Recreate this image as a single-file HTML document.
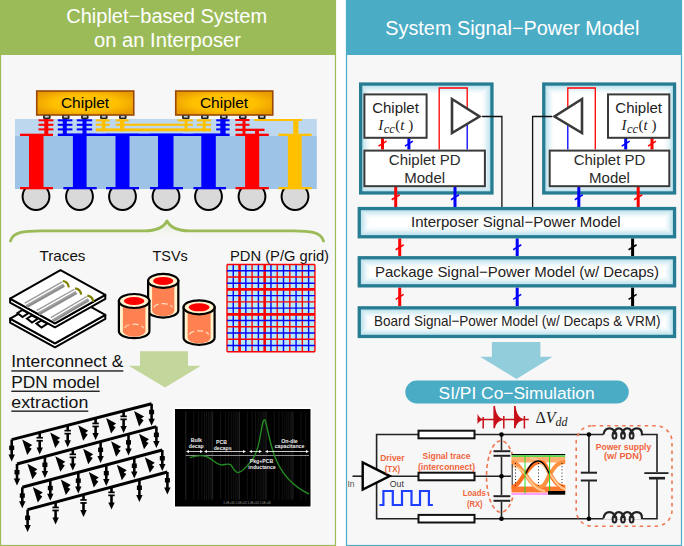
<!DOCTYPE html>
<html><head><meta charset="utf-8"><style>
html,body{margin:0;padding:0;background:#fff;}
svg{display:block;}
</style></head><body>
<svg width="684" height="546" viewBox="0 0 684 546">
<rect x="0" y="0" width="684" height="546" fill="#ffffff"/>
<rect x="0.5" y="0.5" width="335" height="545" fill="#F7F7F7" stroke="#9BBB59" stroke-width="1.2"/>
<rect x="0" y="0" width="336" height="55" fill="#9BBB59"/>
<rect x="346.5" y="0.5" width="335" height="545" fill="#F7F7F7" stroke="#4BACC6" stroke-width="1.2"/>
<rect x="346" y="0" width="336" height="55" fill="#4BACC6"/>
<text x="166.7" y="23" font-family='"Liberation Sans", sans-serif' font-size="20" fill="#fff" text-anchor="middle" font-weight="normal" font-style="normal" textLength="201" lengthAdjust="spacingAndGlyphs" >Chiplet−based System</text>
<text x="167.5" y="46.5" font-family='"Liberation Sans", sans-serif' font-size="20" fill="#fff" text-anchor="middle" font-weight="normal" font-style="normal" textLength="147" lengthAdjust="spacingAndGlyphs" >on an Interposer</text>
<text x="385.3" y="35" font-family='"Liberation Sans", sans-serif' font-size="20" fill="#fff" text-anchor="start" font-weight="normal" font-style="normal" textLength="254" lengthAdjust="spacingAndGlyphs" >System Signal−Power Model</text>
<circle cx="36" cy="196.6" r="13.4" fill="#D9D9D9" stroke="#000" stroke-width="2"/>
<circle cx="79.5" cy="196.6" r="13.4" fill="#D9D9D9" stroke="#000" stroke-width="2"/>
<circle cx="122.5" cy="196.6" r="13.4" fill="#D9D9D9" stroke="#000" stroke-width="2"/>
<circle cx="166" cy="196.6" r="13.4" fill="#D9D9D9" stroke="#000" stroke-width="2"/>
<circle cx="208.5" cy="196.6" r="13.4" fill="#D9D9D9" stroke="#000" stroke-width="2"/>
<circle cx="252" cy="196.6" r="13.4" fill="#D9D9D9" stroke="#000" stroke-width="2"/>
<circle cx="295" cy="196.6" r="13.4" fill="#D9D9D9" stroke="#000" stroke-width="2"/>
<rect x="15" y="119" width="301.8" height="17" fill="#BDD7EE"/>
<rect x="15" y="136" width="301.8" height="53" fill="#9DC3E6"/>
<defs><radialGradient id="chg" cx="50%" cy="50%" r="60%"><stop offset="0.55" stop-color="#FFC000"/><stop offset="1" stop-color="#E89A00"/></radialGradient><linearGradient id="glow" x1="0" y1="0" x2="0" y2="1"><stop offset="0" stop-color="#fff"/><stop offset="1" stop-color="#fff"/></linearGradient></defs>
<rect x="36.75" y="91" width="97" height="24" fill="url(#chg)" stroke="#984807" stroke-width="1.6"/>
<text x="85" y="107.5" font-family='"Liberation Sans", sans-serif' font-size="15.5" fill="#000" text-anchor="middle" font-weight="normal" font-style="normal" >Chiplet</text>
<rect x="43.0" y="115.3" width="7.6" height="3.6" rx="1.2" fill="#222"/>
<rect x="44.8" y="115.8" width="4" height="1.8" fill="#C8C8C8"/>
<rect x="62.0" y="115.3" width="7.6" height="3.6" rx="1.2" fill="#222"/>
<rect x="63.8" y="115.8" width="4" height="1.8" fill="#C8C8C8"/>
<rect x="81.0" y="115.3" width="7.6" height="3.6" rx="1.2" fill="#222"/>
<rect x="82.8" y="115.8" width="4" height="1.8" fill="#C8C8C8"/>
<rect x="100.0" y="115.3" width="7.6" height="3.6" rx="1.2" fill="#222"/>
<rect x="101.8" y="115.8" width="4" height="1.8" fill="#C8C8C8"/>
<rect x="119.0" y="115.3" width="7.6" height="3.6" rx="1.2" fill="#222"/>
<rect x="120.8" y="115.8" width="4" height="1.8" fill="#C8C8C8"/>
<rect x="175.75" y="91" width="97" height="24" fill="url(#chg)" stroke="#984807" stroke-width="1.6"/>
<text x="224" y="107.5" font-family='"Liberation Sans", sans-serif' font-size="15.5" fill="#000" text-anchor="middle" font-weight="normal" font-style="normal" >Chiplet</text>
<rect x="182.0" y="115.3" width="7.6" height="3.6" rx="1.2" fill="#222"/>
<rect x="183.8" y="115.8" width="4" height="1.8" fill="#C8C8C8"/>
<rect x="201.0" y="115.3" width="7.6" height="3.6" rx="1.2" fill="#222"/>
<rect x="202.8" y="115.8" width="4" height="1.8" fill="#C8C8C8"/>
<rect x="220.0" y="115.3" width="7.6" height="3.6" rx="1.2" fill="#222"/>
<rect x="221.8" y="115.8" width="4" height="1.8" fill="#C8C8C8"/>
<rect x="239.0" y="115.3" width="7.6" height="3.6" rx="1.2" fill="#222"/>
<rect x="240.8" y="115.8" width="4" height="1.8" fill="#C8C8C8"/>
<rect x="258.0" y="115.3" width="7.6" height="3.6" rx="1.2" fill="#222"/>
<rect x="259.8" y="115.8" width="4" height="1.8" fill="#C8C8C8"/>
<rect x="29" y="136" width="14.50" height="52.00" fill="#FF0000"/>
<rect x="20" y="133.7" width="33.00" height="2.30" fill="#FF0000"/>
<rect x="20" y="187" width="33.00" height="2.30" fill="#FF0000"/>
<rect x="72.9" y="136" width="13.70" height="52.00" fill="#0000FF"/>
<rect x="63.4" y="133.7" width="33.30" height="2.30" fill="#0000FF"/>
<rect x="63.4" y="187" width="33.30" height="2.30" fill="#0000FF"/>
<rect x="115.5" y="136" width="14.00" height="52.00" fill="#0000FF"/>
<rect x="106" y="133.7" width="33.00" height="2.30" fill="#0000FF"/>
<rect x="106" y="187" width="33.00" height="2.30" fill="#0000FF"/>
<rect x="158" y="136" width="15.50" height="52.00" fill="#0000FF"/>
<rect x="150" y="133.7" width="33.00" height="2.30" fill="#0000FF"/>
<rect x="150" y="187" width="33.00" height="2.30" fill="#0000FF"/>
<rect x="201.3" y="136" width="14.50" height="52.00" fill="#0000FF"/>
<rect x="193.4" y="133.7" width="32.60" height="2.30" fill="#0000FF"/>
<rect x="193.4" y="187" width="32.60" height="2.30" fill="#0000FF"/>
<rect x="245.1" y="136" width="14.10" height="52.00" fill="#FF0000"/>
<rect x="235.5" y="133.7" width="33.30" height="2.30" fill="#FF0000"/>
<rect x="235.5" y="187" width="33.30" height="2.30" fill="#FF0000"/>
<rect x="287.9" y="136" width="13.80" height="52.00" fill="#FFC000"/>
<rect x="278.4" y="133.7" width="33.20" height="2.30" fill="#FFC000"/>
<rect x="278.4" y="187" width="33.20" height="2.30" fill="#FFC000"/>
<rect x="44.3" y="119" width="4.00" height="17.00" fill="#FF0000"/>
<rect x="38.5" y="119.3" width="14.90" height="2.00" fill="#FF0000"/>
<rect x="38.5" y="123.8" width="14.90" height="2.00" fill="#FF0000"/>
<rect x="38.5" y="128.4" width="14.90" height="2.00" fill="#FF0000"/>
<rect x="62.8" y="119" width="4.00" height="17.00" fill="#0000FF"/>
<rect x="57.8" y="119.3" width="14.60" height="2.00" fill="#0000FF"/>
<rect x="57.8" y="123.8" width="14.60" height="2.00" fill="#0000FF"/>
<rect x="57.8" y="128.4" width="14.60" height="2.00" fill="#0000FF"/>
<rect x="82.5" y="119" width="4.00" height="17.00" fill="#0000FF"/>
<rect x="76.8" y="119.3" width="15.30" height="2.00" fill="#0000FF"/>
<rect x="76.8" y="123.8" width="15.30" height="2.00" fill="#0000FF"/>
<rect x="76.8" y="128.4" width="15.30" height="2.00" fill="#0000FF"/>
<rect x="220.3" y="119" width="5.30" height="17.00" fill="#0000FF"/>
<rect x="216.2" y="119.3" width="13.40" height="2.00" fill="#0000FF"/>
<rect x="216.2" y="123.8" width="13.40" height="2.00" fill="#0000FF"/>
<rect x="216.2" y="128.4" width="13.40" height="2.00" fill="#0000FF"/>
<rect x="242.5" y="119" width="3.00" height="17.00" fill="#FF0000"/>
<rect x="235.3" y="119" width="14.20" height="2.00" fill="#FF0000"/>
<rect x="235.3" y="123.8" width="14.20" height="2.00" fill="#FF0000"/>
<rect x="235.3" y="128.7" width="29.20" height="2.30" fill="#FF0000"/>
<rect x="255" y="131" width="4.00" height="5.00" fill="#FF0000"/>
<rect x="57.8" y="133.6" width="171.80" height="2.40" fill="#0000FF"/>
<rect x="95.8" y="119.3" width="13.90" height="2.10" fill="#FFC000"/>
<rect x="101.7" y="119.3" width="3.70" height="12.00" fill="#FFC000"/>
<rect x="115.6" y="119.3" width="13.10" height="2.10" fill="#FFC000"/>
<rect x="120" y="119.3" width="4.40" height="12.00" fill="#FFC000"/>
<rect x="177.6" y="119.3" width="15.20" height="2.10" fill="#FFC000"/>
<rect x="184.6" y="119.3" width="2.90" height="12.00" fill="#FFC000"/>
<rect x="196.9" y="119.3" width="14.10" height="2.10" fill="#FFC000"/>
<rect x="202.7" y="119.3" width="3.00" height="12.00" fill="#FFC000"/>
<rect x="95.8" y="123.7" width="13.90" height="2.10" fill="#FFC000"/>
<rect x="115.6" y="123.7" width="77.20" height="2.10" fill="#FFC000"/>
<rect x="95.8" y="128.4" width="115.20" height="2.90" fill="#FFC000"/>
<rect x="196.9" y="123.7" width="14.10" height="2.10" fill="#FFC000"/>
<rect x="254.3" y="119" width="47.80" height="2.00" fill="#FFC000"/>
<rect x="293.2" y="121" width="5.20" height="13.00" fill="#FFC000"/>
<defs><linearGradient id="brg" x1="0" y1="0" x2="0" y2="1"><stop offset="0" stop-color="#E4ECD3"/><stop offset="1" stop-color="#F7F7F7" stop-opacity="0"/></linearGradient></defs>
<path d="M12,241 C15,233 25,231 42,231 L144,231 C158,231 164,227 167,221 C170,227 176,231 190,231 L293,231 C310,231 319,233 322,241 Z" fill="url(#brg)"/>
<path d="M10.5,241 C13,232.5 23,230.8 41,230.8 L144,230.8 C158,230.8 164,227 167,221 C170,227 176,230.8 190,230.8 L293,230.8 C311,230.8 321,232.5 323.5,241" fill="none" stroke="#9BBB59" stroke-width="2.8" stroke-linejoin="round" stroke-linecap="round"/>
<text x="62.5" y="260.5" font-family='"Liberation Sans", sans-serif' font-size="15" fill="#111" text-anchor="middle" font-weight="normal" font-style="normal" textLength="46" lengthAdjust="spacingAndGlyphs" >Traces</text>
<text x="170.1" y="261" font-family='"Liberation Sans", sans-serif' font-size="15" fill="#111" text-anchor="middle" font-weight="normal" font-style="normal" textLength="35.4" lengthAdjust="spacingAndGlyphs" >TSVs</text>
<text x="279.5" y="261" font-family='"Liberation Sans", sans-serif' font-size="15" fill="#111" text-anchor="middle" font-weight="normal" font-style="normal" textLength="99" lengthAdjust="spacingAndGlyphs" >PDN (P/G grid)</text>
<path d="M10.1,318.6 L55,343.3 L105.3,314.9 L105.3,318.9 L55,347.3 L10.1,322.6 Z" fill="#fff" stroke="#000" stroke-width="2" stroke-linejoin="round"/>
<path d="M60.5,290.2 L105.3,314.9 L55,343.3 L10.1,318.6 Z" fill="#fff" stroke="#000" stroke-width="2" stroke-linejoin="round"/>
<path d="M17.5,313 L22.5,310 L28.5,313 L22.5,317 Z" fill="#fff" stroke="#000" stroke-width="2"/>
<path d="M27,318.5 L32,315.5 L38,318.5 L32,322.5 Z" fill="#fff" stroke="#000" stroke-width="2"/>
<path d="M36.5,323.5 L41.5,320.5 L47.5,323.5 L41.5,327.5 Z" fill="#fff" stroke="#000" stroke-width="2"/>
<path d="M10.1,298.6 L55,323.3 L105.3,294.9 L105.3,298.9 L55,327.3 L10.1,302.6 Z" fill="#fff" stroke="#000" stroke-width="2" stroke-linejoin="round"/>
<path d="M60.5,270.2 L105.3,294.9 L55,323.3 L10.1,298.6 Z" fill="#fff" stroke="#000" stroke-width="2" stroke-linejoin="round"/>
<line x1="62.2" y1="281.9" x2="24.7" y2="303.1" stroke="#9A9A9A" stroke-width="1.3"/>
<line x1="64.1" y1="285.2" x2="26.6" y2="306.4" stroke="#8E8E8E" stroke-width="3.4"/>
<line x1="63.7" y1="284.5" x2="26.2" y2="305.7" stroke="#B0B0B0" stroke-width="0.8"/>
<path d="M62.8,281.0 Q68.3,281.8 68.8,287.3" fill="none" stroke="#808000" stroke-width="2.2"/>
<line x1="74.5" y1="289.3" x2="36.9" y2="310.4" stroke="#9A9A9A" stroke-width="1.3"/>
<line x1="76.4" y1="292.6" x2="38.8" y2="313.7" stroke="#8E8E8E" stroke-width="3.4"/>
<line x1="76.0" y1="291.9" x2="38.4" y2="313.0" stroke="#B0B0B0" stroke-width="0.8"/>
<path d="M75.1,288.4 Q80.6,289.2 81.1,294.7" fill="none" stroke="#808000" stroke-width="2.2"/>
<line x1="86.7" y1="296.5" x2="50.9" y2="317.6" stroke="#9A9A9A" stroke-width="1.3"/>
<line x1="88.6" y1="299.8" x2="52.8" y2="320.9" stroke="#8E8E8E" stroke-width="3.4"/>
<line x1="88.2" y1="299.1" x2="52.4" y2="320.2" stroke="#B0B0B0" stroke-width="0.8"/>
<path d="M87.3,295.6 Q92.8,296.4 93.3,301.9" fill="none" stroke="#808000" stroke-width="2.2"/>
<path d="M148.09999999999997,280.9 L148.09999999999997,310.6 A15.100000000000009,7 0 0 0 178.3,310.6 L178.3,280.9 Z" fill="#FFF2CC" stroke="#000" stroke-width="2.2"/>
<path d="M152.09999999999997,283.9 L152.09999999999997,310.6 A11.100000000000009,5.5 0 0 0 174.3,310.6 L174.3,283.9 Z" fill="#FF8050"/>
<ellipse cx="163.2" cy="280.9" rx="15.100000000000009" ry="7" fill="#FFF2CC" stroke="#000" stroke-width="2.2"/>
<ellipse cx="163.2" cy="280.9" rx="10.100000000000009" ry="4" fill="#FF0000"/>
<path d="M154.09999999999997,307.6 A9.100000000000009,4 0 0 1 172.3,307.6" fill="none" stroke="#FFE0C0" stroke-width="1.2" stroke-dasharray="6 3"/>
<path d="M118.9,301 L118.9,331.2 A15.25,7 0 0 0 149.4,331.2 L149.4,301 Z" fill="#FFF2CC" stroke="#000" stroke-width="2.2"/>
<path d="M122.9,304 L122.9,331.2 A11.25,5.5 0 0 0 145.4,331.2 L145.4,304 Z" fill="#FF8050"/>
<ellipse cx="134.15" cy="301" rx="15.25" ry="7" fill="#FFF2CC" stroke="#000" stroke-width="2.2"/>
<ellipse cx="134.15" cy="301" rx="10.25" ry="4" fill="#FF0000"/>
<path d="M124.9,328.2 A9.25,4 0 0 1 143.4,328.2" fill="none" stroke="#FFE0C0" stroke-width="1.2" stroke-dasharray="6 3"/>
<path d="M183.6,307.3 L183.6,337.8 A15.5,7 0 0 0 214.6,337.8 L214.6,307.3 Z" fill="#FFF2CC" stroke="#000" stroke-width="2.2"/>
<path d="M187.6,310.3 L187.6,337.8 A11.5,5.5 0 0 0 210.6,337.8 L210.6,310.3 Z" fill="#FF8050"/>
<ellipse cx="199.1" cy="307.3" rx="15.5" ry="7" fill="#FFF2CC" stroke="#000" stroke-width="2.2"/>
<ellipse cx="199.1" cy="307.3" rx="10.5" ry="4" fill="#FF0000"/>
<path d="M189.6,334.8 A9.5,4 0 0 1 208.6,334.8" fill="none" stroke="#FFE0C0" stroke-width="1.2" stroke-dasharray="6 3"/>
<rect x="227" y="264.5" width="87.89999999999998" height="87.19999999999999" fill="#B7EBF3"/>
<line x1="227.00" y1="264.5" x2="227.00" y2="351.7" stroke="#FF0000" stroke-width="1.4"/>
<line x1="233.28" y1="264.5" x2="233.28" y2="351.7" stroke="#0000FF" stroke-width="1.4"/>
<line x1="239.56" y1="264.5" x2="239.56" y2="351.7" stroke="#FF0000" stroke-width="2.6"/>
<line x1="245.84" y1="264.5" x2="245.84" y2="351.7" stroke="#0000FF" stroke-width="1.4"/>
<line x1="252.11" y1="264.5" x2="252.11" y2="351.7" stroke="#FF0000" stroke-width="1.4"/>
<line x1="258.39" y1="264.5" x2="258.39" y2="351.7" stroke="#0000FF" stroke-width="1.4"/>
<line x1="264.67" y1="264.5" x2="264.67" y2="351.7" stroke="#FF0000" stroke-width="2.6"/>
<line x1="270.95" y1="264.5" x2="270.95" y2="351.7" stroke="#0000FF" stroke-width="1.4"/>
<line x1="277.23" y1="264.5" x2="277.23" y2="351.7" stroke="#FF0000" stroke-width="1.4"/>
<line x1="283.51" y1="264.5" x2="283.51" y2="351.7" stroke="#0000FF" stroke-width="1.4"/>
<line x1="289.79" y1="264.5" x2="289.79" y2="351.7" stroke="#FF0000" stroke-width="1.4"/>
<line x1="296.06" y1="264.5" x2="296.06" y2="351.7" stroke="#0000FF" stroke-width="1.4"/>
<line x1="302.34" y1="264.5" x2="302.34" y2="351.7" stroke="#FF0000" stroke-width="1.4"/>
<line x1="308.62" y1="264.5" x2="308.62" y2="351.7" stroke="#0000FF" stroke-width="1.4"/>
<line x1="314.90" y1="264.5" x2="314.90" y2="351.7" stroke="#FF0000" stroke-width="1.4"/>
<line x1="227" y1="264.50" x2="314.9" y2="264.50" stroke="#FF0000" stroke-width="1.4"/>
<line x1="227" y1="270.73" x2="314.9" y2="270.73" stroke="#0000FF" stroke-width="1.4"/>
<line x1="227" y1="276.96" x2="314.9" y2="276.96" stroke="#FF0000" stroke-width="1.4"/>
<line x1="227" y1="283.19" x2="314.9" y2="283.19" stroke="#0000FF" stroke-width="1.4"/>
<line x1="227" y1="289.41" x2="314.9" y2="289.41" stroke="#FF0000" stroke-width="2.6"/>
<line x1="227" y1="295.64" x2="314.9" y2="295.64" stroke="#0000FF" stroke-width="1.4"/>
<line x1="227" y1="301.87" x2="314.9" y2="301.87" stroke="#FF0000" stroke-width="1.4"/>
<line x1="227" y1="308.10" x2="314.9" y2="308.10" stroke="#0000FF" stroke-width="1.4"/>
<line x1="227" y1="314.33" x2="314.9" y2="314.33" stroke="#FF0000" stroke-width="2.6"/>
<line x1="227" y1="320.56" x2="314.9" y2="320.56" stroke="#0000FF" stroke-width="1.4"/>
<line x1="227" y1="326.79" x2="314.9" y2="326.79" stroke="#FF0000" stroke-width="1.4"/>
<line x1="227" y1="333.01" x2="314.9" y2="333.01" stroke="#0000FF" stroke-width="1.4"/>
<line x1="227" y1="339.24" x2="314.9" y2="339.24" stroke="#FF0000" stroke-width="1.4"/>
<line x1="227" y1="345.47" x2="314.9" y2="345.47" stroke="#0000FF" stroke-width="1.4"/>
<line x1="227" y1="351.70" x2="314.9" y2="351.70" stroke="#FF0000" stroke-width="1.4"/>
<text x="11.3" y="367.3" font-family='"Liberation Sans", sans-serif' font-size="17" fill="#111" text-anchor="start" font-weight="normal" font-style="normal" textLength="112" lengthAdjust="spacingAndGlyphs" >Interconnect &</text>
<rect x="11.3" y="370.3" width="112" height="1.3" fill="#111"/>
<text x="11.3" y="387.6" font-family='"Liberation Sans", sans-serif' font-size="17" fill="#111" text-anchor="start" font-weight="normal" font-style="normal" textLength="88.4" lengthAdjust="spacingAndGlyphs" >PDN model</text>
<rect x="11.3" y="390.6" width="88.4" height="1.3" fill="#111"/>
<text x="11.3" y="407.5" font-family='"Liberation Sans", sans-serif' font-size="17" fill="#111" text-anchor="start" font-weight="normal" font-style="normal" textLength="77" lengthAdjust="spacingAndGlyphs" >extraction</text>
<rect x="11.3" y="410.5" width="77" height="1.3" fill="#111"/>
<path d="M140,351.3 L188,351.3 L188,365.7 L201,365.7 L165,387.6 L128.7,365.7 L140,365.7 Z" fill="#C3D69B"/>
<path d="M22.2,439.5 L32.2,445.0 L29.2,447.2 L31.7,448.8 L27.2,455.0 Z" fill="#000"/>
<path d="M50.2,432.4 L60.2,437.9 L57.2,440.1 L59.7,441.7 L55.2,447.9 Z" fill="#000"/>
<path d="M78.2,425.2 L88.2,430.7 L85.2,432.9 L87.7,434.5 L83.2,440.7 Z" fill="#000"/>
<path d="M106.1,418.0 L116.1,423.5 L113.1,425.7 L115.6,427.3 L111.1,433.5 Z" fill="#000"/>
<path d="M134.1,410.9 L144.1,416.4 L141.1,418.6 L143.6,420.2 L139.1,426.4 Z" fill="#000"/>
<line x1="11.7" y1="439.6" x2="151.6" y2="403.8" stroke="#000" stroke-width="3"/>
<line x1="11.7" y1="439.6" x2="11.7" y2="456.6" stroke="#000" stroke-width="2.6"/>
<path d="M8.5,454.6 L14.9,454.6 L11.7,461.6 Z" fill="#000"/>
<rect x="9.2" y="445.6" width="5" height="4.5" fill="#000"/>
<line x1="39.7" y1="432.4" x2="39.7" y2="449.4" stroke="#000" stroke-width="2.6"/>
<path d="M36.5,447.4 L42.9,447.4 L39.7,454.4 Z" fill="#000"/>
<rect x="36.5" y="437.4" width="6.4" height="3" fill="#F7F7F7"/>
<rect x="36.5" y="436.9" width="6.4" height="1.7" fill="#000"/>
<rect x="36.5" y="439.9" width="6.4" height="1.7" fill="#000"/>
<line x1="67.7" y1="425.3" x2="67.7" y2="442.3" stroke="#000" stroke-width="2.6"/>
<path d="M64.5,440.3 L70.9,440.3 L67.7,447.3 Z" fill="#000"/>
<rect x="64.5" y="430.3" width="6.4" height="3" fill="#F7F7F7"/>
<rect x="64.5" y="429.8" width="6.4" height="1.7" fill="#000"/>
<rect x="64.5" y="432.8" width="6.4" height="1.7" fill="#000"/>
<line x1="95.6" y1="418.1" x2="95.6" y2="435.1" stroke="#000" stroke-width="2.6"/>
<path d="M92.4,433.1 L98.8,433.1 L95.6,440.1 Z" fill="#000"/>
<rect x="92.4" y="423.1" width="6.4" height="3" fill="#F7F7F7"/>
<rect x="92.4" y="422.6" width="6.4" height="1.7" fill="#000"/>
<rect x="92.4" y="425.6" width="6.4" height="1.7" fill="#000"/>
<line x1="123.6" y1="411.0" x2="123.6" y2="428.0" stroke="#000" stroke-width="2.6"/>
<path d="M120.4,426.0 L126.8,426.0 L123.6,433.0 Z" fill="#000"/>
<rect x="120.4" y="416.0" width="6.4" height="3" fill="#F7F7F7"/>
<rect x="120.4" y="415.5" width="6.4" height="1.7" fill="#000"/>
<rect x="120.4" y="418.5" width="6.4" height="1.7" fill="#000"/>
<line x1="151.6" y1="403.8" x2="151.6" y2="420.8" stroke="#000" stroke-width="2.6"/>
<path d="M148.4,418.8 L154.8,418.8 L151.6,425.8 Z" fill="#000"/>
<rect x="149.1" y="409.8" width="5" height="4.5" fill="#000"/>
<path d="M27.4,463.8 L37.4,469.3 L34.4,471.5 L36.9,473.1 L32.4,479.3 Z" fill="#000"/>
<path d="M55.3,456.3 L65.3,461.8 L62.3,464.0 L64.8,465.6 L60.3,471.8 Z" fill="#000"/>
<path d="M83.2,448.8 L93.2,454.3 L90.2,456.5 L92.7,458.1 L88.2,464.3 Z" fill="#000"/>
<path d="M111.1,441.3 L121.1,446.8 L118.1,449.0 L120.6,450.6 L116.1,456.8 Z" fill="#000"/>
<path d="M139.0,433.8 L149.0,439.3 L146.0,441.5 L148.5,443.1 L144.0,449.3 Z" fill="#000"/>
<line x1="17" y1="464" x2="156.4" y2="426.6" stroke="#000" stroke-width="3"/>
<line x1="17.0" y1="464.0" x2="17.0" y2="480.5" stroke="#000" stroke-width="2.6"/>
<path d="M13.8,478.5 L20.2,478.5 L17.0,485.5 Z" fill="#000"/>
<rect x="14.5" y="470.0" width="5" height="4.5" fill="#000"/>
<line x1="44.9" y1="456.5" x2="44.9" y2="473.0" stroke="#000" stroke-width="2.6"/>
<path d="M41.7,471.0 L48.1,471.0 L44.9,478.0 Z" fill="#000"/>
<rect x="42.4" y="462.5" width="5" height="4.5" fill="#000"/>
<line x1="72.8" y1="449.0" x2="72.8" y2="465.5" stroke="#000" stroke-width="2.6"/>
<path d="M69.6,463.5 L76.0,463.5 L72.8,470.5 Z" fill="#000"/>
<rect x="69.6" y="454.0" width="6.4" height="3" fill="#F7F7F7"/>
<rect x="69.6" y="453.5" width="6.4" height="1.7" fill="#000"/>
<rect x="69.6" y="456.5" width="6.4" height="1.7" fill="#000"/>
<line x1="100.6" y1="441.6" x2="100.6" y2="458.1" stroke="#000" stroke-width="2.6"/>
<path d="M97.4,456.1 L103.8,456.1 L100.6,463.1 Z" fill="#000"/>
<rect x="98.1" y="447.6" width="5" height="4.5" fill="#000"/>
<line x1="128.5" y1="434.1" x2="128.5" y2="450.6" stroke="#000" stroke-width="2.6"/>
<path d="M125.3,448.6 L131.7,448.6 L128.5,455.6 Z" fill="#000"/>
<rect x="126.0" y="440.1" width="5" height="4.5" fill="#000"/>
<line x1="156.4" y1="426.6" x2="156.4" y2="443.1" stroke="#000" stroke-width="2.6"/>
<path d="M153.2,441.1 L159.6,441.1 L156.4,448.1 Z" fill="#000"/>
<rect x="153.9" y="432.6" width="5" height="4.5" fill="#000"/>
<path d="M32.8,487.1 L42.8,492.6 L39.8,494.8 L42.3,496.4 L37.8,502.6 Z" fill="#000"/>
<path d="M60.8,479.6 L70.8,485.1 L67.8,487.3 L70.3,488.9 L65.8,495.1 Z" fill="#000"/>
<path d="M88.8,472.1 L98.8,477.6 L95.8,479.8 L98.3,481.4 L93.8,487.6 Z" fill="#000"/>
<path d="M116.8,464.7 L126.8,470.2 L123.8,472.4 L126.3,474.0 L121.8,480.2 Z" fill="#000"/>
<path d="M144.8,457.2 L154.8,462.7 L151.8,464.9 L154.3,466.5 L149.8,472.7 Z" fill="#000"/>
<line x1="22.3" y1="487.3" x2="162.3" y2="450" stroke="#000" stroke-width="3"/>
<line x1="22.3" y1="487.3" x2="22.3" y2="503.3" stroke="#000" stroke-width="2.6"/>
<path d="M19.1,501.3 L25.5,501.3 L22.3,508.3 Z" fill="#000"/>
<rect x="19.8" y="493.3" width="5" height="4.5" fill="#000"/>
<line x1="50.3" y1="479.8" x2="50.3" y2="495.8" stroke="#000" stroke-width="2.6"/>
<path d="M47.1,493.8 L53.5,493.8 L50.3,500.8 Z" fill="#000"/>
<rect x="47.8" y="485.8" width="5" height="4.5" fill="#000"/>
<line x1="78.3" y1="472.4" x2="78.3" y2="488.4" stroke="#000" stroke-width="2.6"/>
<path d="M75.1,486.4 L81.5,486.4 L78.3,493.4 Z" fill="#000"/>
<rect x="75.8" y="478.4" width="5" height="4.5" fill="#000"/>
<line x1="106.3" y1="464.9" x2="106.3" y2="480.9" stroke="#000" stroke-width="2.6"/>
<path d="M103.1,478.9 L109.5,478.9 L106.3,485.9 Z" fill="#000"/>
<rect x="103.8" y="470.9" width="5" height="4.5" fill="#000"/>
<line x1="134.3" y1="457.5" x2="134.3" y2="473.5" stroke="#000" stroke-width="2.6"/>
<path d="M131.1,471.5 L137.5,471.5 L134.3,478.5 Z" fill="#000"/>
<rect x="131.8" y="463.5" width="5" height="4.5" fill="#000"/>
<line x1="162.3" y1="450.0" x2="162.3" y2="466.0" stroke="#000" stroke-width="2.6"/>
<path d="M159.1,464.0 L165.5,464.0 L162.3,471.0 Z" fill="#000"/>
<rect x="159.8" y="456.0" width="5" height="4.5" fill="#000"/>
<line x1="27.6" y1="509.6" x2="167.4" y2="472" stroke="#000" stroke-width="3"/>
<line x1="27.6" y1="509.6" x2="27.6" y2="527.1" stroke="#000" stroke-width="2.6"/>
<path d="M24.4,525.1 L30.8,525.1 L27.6,532.1 Z" fill="#000"/>
<rect x="25.1" y="515.6" width="5" height="4.5" fill="#000"/>
<line x1="55.6" y1="502.1" x2="55.6" y2="519.6" stroke="#000" stroke-width="2.6"/>
<path d="M52.4,517.6 L58.8,517.6 L55.6,524.6 Z" fill="#000"/>
<rect x="52.4" y="507.1" width="6.4" height="3" fill="#F7F7F7"/>
<rect x="52.4" y="506.6" width="6.4" height="1.7" fill="#000"/>
<rect x="52.4" y="509.6" width="6.4" height="1.7" fill="#000"/>
<line x1="83.5" y1="494.6" x2="83.5" y2="512.1" stroke="#000" stroke-width="2.6"/>
<path d="M80.3,510.1 L86.7,510.1 L83.5,517.1 Z" fill="#000"/>
<rect x="80.3" y="499.6" width="6.4" height="3" fill="#F7F7F7"/>
<rect x="80.3" y="499.1" width="6.4" height="1.7" fill="#000"/>
<rect x="80.3" y="502.1" width="6.4" height="1.7" fill="#000"/>
<line x1="111.5" y1="487.0" x2="111.5" y2="504.5" stroke="#000" stroke-width="2.6"/>
<path d="M108.3,502.5 L114.7,502.5 L111.5,509.5 Z" fill="#000"/>
<rect x="108.3" y="492.0" width="6.4" height="3" fill="#F7F7F7"/>
<rect x="108.3" y="491.5" width="6.4" height="1.7" fill="#000"/>
<rect x="108.3" y="494.5" width="6.4" height="1.7" fill="#000"/>
<line x1="139.4" y1="479.5" x2="139.4" y2="497.0" stroke="#000" stroke-width="2.6"/>
<path d="M136.2,495.0 L142.6,495.0 L139.4,502.0 Z" fill="#000"/>
<rect x="136.9" y="485.5" width="5" height="4.5" fill="#000"/>
<line x1="167.4" y1="472.0" x2="167.4" y2="489.5" stroke="#000" stroke-width="2.6"/>
<path d="M164.2,487.5 L170.6,487.5 L167.4,494.5 Z" fill="#000"/>
<rect x="164.9" y="478.0" width="5" height="4.5" fill="#000"/>
<rect x="173.5" y="407.5" width="138.5" height="100.5" fill="#fff"/>
<rect x="175" y="409" width="135.5" height="97.5" fill="#000"/>
<line x1="185.8" y1="411.6" x2="185.8" y2="499.7" stroke="#4a4a4a" stroke-width="0.5"/>
<line x1="193.9" y1="411.6" x2="193.9" y2="499.7" stroke="#262626" stroke-width="0.5"/>
<line x1="198.6" y1="411.6" x2="198.6" y2="499.7" stroke="#262626" stroke-width="0.5"/>
<line x1="201.9" y1="411.6" x2="201.9" y2="499.7" stroke="#262626" stroke-width="0.5"/>
<line x1="204.5" y1="411.6" x2="204.5" y2="499.7" stroke="#262626" stroke-width="0.5"/>
<line x1="206.6" y1="411.6" x2="206.6" y2="499.7" stroke="#262626" stroke-width="0.5"/>
<line x1="208.4" y1="411.6" x2="208.4" y2="499.7" stroke="#262626" stroke-width="0.5"/>
<line x1="210.0" y1="411.6" x2="210.0" y2="499.7" stroke="#262626" stroke-width="0.5"/>
<line x1="211.4" y1="411.6" x2="211.4" y2="499.7" stroke="#262626" stroke-width="0.5"/>
<line x1="212.6" y1="411.6" x2="212.6" y2="499.7" stroke="#4a4a4a" stroke-width="0.5"/>
<line x1="220.6" y1="411.6" x2="220.6" y2="499.7" stroke="#262626" stroke-width="0.5"/>
<line x1="225.4" y1="411.6" x2="225.4" y2="499.7" stroke="#262626" stroke-width="0.5"/>
<line x1="228.7" y1="411.6" x2="228.7" y2="499.7" stroke="#262626" stroke-width="0.5"/>
<line x1="231.3" y1="411.6" x2="231.3" y2="499.7" stroke="#262626" stroke-width="0.5"/>
<line x1="233.4" y1="411.6" x2="233.4" y2="499.7" stroke="#262626" stroke-width="0.5"/>
<line x1="235.2" y1="411.6" x2="235.2" y2="499.7" stroke="#262626" stroke-width="0.5"/>
<line x1="236.8" y1="411.6" x2="236.8" y2="499.7" stroke="#262626" stroke-width="0.5"/>
<line x1="238.1" y1="411.6" x2="238.1" y2="499.7" stroke="#262626" stroke-width="0.5"/>
<line x1="239.4" y1="411.6" x2="239.4" y2="499.7" stroke="#4a4a4a" stroke-width="0.5"/>
<line x1="247.4" y1="411.6" x2="247.4" y2="499.7" stroke="#262626" stroke-width="0.5"/>
<line x1="252.1" y1="411.6" x2="252.1" y2="499.7" stroke="#262626" stroke-width="0.5"/>
<line x1="255.5" y1="411.6" x2="255.5" y2="499.7" stroke="#262626" stroke-width="0.5"/>
<line x1="258.1" y1="411.6" x2="258.1" y2="499.7" stroke="#262626" stroke-width="0.5"/>
<line x1="260.2" y1="411.6" x2="260.2" y2="499.7" stroke="#262626" stroke-width="0.5"/>
<line x1="262.0" y1="411.6" x2="262.0" y2="499.7" stroke="#262626" stroke-width="0.5"/>
<line x1="263.6" y1="411.6" x2="263.6" y2="499.7" stroke="#262626" stroke-width="0.5"/>
<line x1="264.9" y1="411.6" x2="264.9" y2="499.7" stroke="#262626" stroke-width="0.5"/>
<line x1="266.1" y1="411.6" x2="266.1" y2="499.7" stroke="#4a4a4a" stroke-width="0.5"/>
<line x1="274.2" y1="411.6" x2="274.2" y2="499.7" stroke="#262626" stroke-width="0.5"/>
<line x1="278.9" y1="411.6" x2="278.9" y2="499.7" stroke="#262626" stroke-width="0.5"/>
<line x1="282.3" y1="411.6" x2="282.3" y2="499.7" stroke="#262626" stroke-width="0.5"/>
<line x1="284.9" y1="411.6" x2="284.9" y2="499.7" stroke="#262626" stroke-width="0.5"/>
<line x1="287.0" y1="411.6" x2="287.0" y2="499.7" stroke="#262626" stroke-width="0.5"/>
<line x1="288.8" y1="411.6" x2="288.8" y2="499.7" stroke="#262626" stroke-width="0.5"/>
<line x1="290.3" y1="411.6" x2="290.3" y2="499.7" stroke="#262626" stroke-width="0.5"/>
<line x1="291.7" y1="411.6" x2="291.7" y2="499.7" stroke="#262626" stroke-width="0.5"/>
<line x1="292.9" y1="411.6" x2="292.9" y2="499.7" stroke="#4a4a4a" stroke-width="0.5"/>
<line x1="301.0" y1="411.6" x2="301.0" y2="499.7" stroke="#262626" stroke-width="0.5"/>
<line x1="305.7" y1="411.6" x2="305.7" y2="499.7" stroke="#262626" stroke-width="0.5"/>
<line x1="185.8" y1="455.5" x2="309" y2="455.5" stroke="#ccc" stroke-width="0.7"/>
<path d="M189.7,457.6 C195,456 200,455 205,456 C212,458 216,465 222,465 C226,464.5 229,463 231,465 C233,468 235,472.6 238,472.6 C243,472 248,465 252,460 C256,455 259,445 261,432 C263,420 264,419 265,420 C267,425 270,445 275,457 C280,470 290,485 309,494" fill="none" stroke="#238A23" stroke-width="1.4"/>
<line x1="188" y1="451.5" x2="201" y2="451.5" stroke="#fff" stroke-width="0.8"/>
<path d="M186,451.5 l3,-1.5 l0,3 Z M203,451.5 l-3,-1.5 l0,3 Z" fill="#fff"/>
<line x1="206" y1="451.5" x2="244" y2="451.5" stroke="#fff" stroke-width="0.8"/>
<path d="M204,451.5 l3,-1.5 l0,3 Z M246,451.5 l-3,-1.5 l0,3 Z" fill="#fff"/>
<line x1="251" y1="451.5" x2="260" y2="451.5" stroke="#fff" stroke-width="0.8"/>
<path d="M249,451.5 l3,-1.5 l0,3 Z M262,451.5 l-3,-1.5 l0,3 Z" fill="#fff"/>
<line x1="267" y1="451.5" x2="307" y2="451.5" stroke="#fff" stroke-width="0.8"/>
<path d="M265,451.5 l3,-1.5 l0,3 Z M309,451.5 l-3,-1.5 l0,3 Z" fill="#fff"/>
<text x="196.3" y="441.8" font-family='"Liberation Sans", sans-serif' font-size="5.2" fill="#eee" text-anchor="middle" font-weight="bold" font-style="normal" >Bulk</text>
<text x="196.3" y="447.8" font-family='"Liberation Sans", sans-serif' font-size="5.2" fill="#eee" text-anchor="middle" font-weight="bold" font-style="normal" >decap</text>
<text x="221.5" y="444" font-family='"Liberation Sans", sans-serif' font-size="5.2" fill="#eee" text-anchor="middle" font-weight="bold" font-style="normal" >PCB</text>
<text x="222.6" y="450" font-family='"Liberation Sans", sans-serif' font-size="5.2" fill="#eee" text-anchor="middle" font-weight="bold" font-style="normal" >decaps</text>
<text x="261.5" y="462.5" font-family='"Liberation Sans", sans-serif' font-size="5.2" fill="#eee" text-anchor="middle" font-weight="bold" font-style="normal" >Pkg+PCB</text>
<text x="262" y="468.6" font-family='"Liberation Sans", sans-serif' font-size="5.2" fill="#eee" text-anchor="middle" font-weight="bold" font-style="normal" >inductance</text>
<text x="289.5" y="442.7" font-family='"Liberation Sans", sans-serif' font-size="5.2" fill="#eee" text-anchor="middle" font-weight="bold" font-style="normal" >On-die</text>
<text x="289.5" y="448.4" font-family='"Liberation Sans", sans-serif' font-size="5.2" fill="#eee" text-anchor="middle" font-weight="bold" font-style="normal" >capacitance</text>
<text x="247" y="503.5" font-family='"Liberation Sans"' font-size="3" fill="#999" text-anchor="middle">1.0E+00            1.0E+02            1.0E+04            1.0E+06</text>
<defs>
<linearGradient id="gv" x1="0" y1="0" x2="0" y2="1"><stop offset="0" stop-color="#BFE3EE"/><stop offset="0.25" stop-color="#FFFFFF"/><stop offset="0.75" stop-color="#FFFFFF"/><stop offset="1" stop-color="#BFE3EE"/></linearGradient>
</defs>
<rect x="359" y="82.4" width="134.60000000000002" height="112.19999999999999" fill="#267C92"/>
<rect x="362.3" y="85.7" width="128.00000000000003" height="105.6" fill="#C3E4EE"/>
<rect x="363.9" y="87.30000000000001" width="124.80000000000003" height="102.39999999999999" fill="#D3ECF3"/>
<rect x="365.5" y="88.9" width="121.60000000000002" height="99.19999999999999" fill="#E2F2F7"/>
<rect x="367.1" y="90.5" width="118.40000000000002" height="95.99999999999999" fill="#EFF8FB"/>
<rect x="368.7" y="92.10000000000001" width="115.20000000000002" height="92.79999999999998" fill="#F8FCFD"/>
<rect x="370.3" y="93.7" width="112.00000000000003" height="89.6" fill="#FFFFFF"/>
<path d="M482.1,116.5 L501.9,116.5 L501.9,207.6" fill="none" stroke="#111" stroke-width="1.3"/>
<path d="M439.2,149.5 L439.2,88 L467.2,88 L467.2,125" fill="none" stroke="#FF0000" stroke-width="1.3"/>
<path d="M467.2,125 L467.2,149.5" fill="none" stroke="#0000FF" stroke-width="1.3"/>
<line x1="382.5" y1="137.8" x2="382.5" y2="149.5" stroke="#FF0000" stroke-width="3"/>
<line x1="378.5" y1="146.15" x2="386.5" y2="141.15" stroke="#FF0000" stroke-width="1.5"/>
<line x1="408.9" y1="137.8" x2="408.9" y2="149.5" stroke="#0000FF" stroke-width="3"/>
<line x1="404.9" y1="146.15" x2="412.9" y2="141.15" stroke="#0000FF" stroke-width="1.5"/>
<line x1="395.7" y1="186.9" x2="395.7" y2="207.6" stroke="#FF0000" stroke-width="3"/>
<line x1="391.7" y1="199.75" x2="399.7" y2="194.75" stroke="#FF0000" stroke-width="1.5"/>
<line x1="455" y1="186.9" x2="455" y2="207.6" stroke="#0000FF" stroke-width="3"/>
<line x1="451" y1="199.75" x2="459" y2="194.75" stroke="#0000FF" stroke-width="1.5"/>
<rect x="364.4" y="94.4" width="62.200000000000045" height="43.4" fill="#fff" stroke="#3A3A3A" stroke-width="2"/>
<rect x="364.4" y="150.6" width="120.5" height="35.6" fill="#fff" stroke="#3A3A3A" stroke-width="2"/>
<path d="M452,99 L452,133 L479.5,116.5 Z" fill="#fff" stroke="#3A3A3A" stroke-width="2.6" stroke-linejoin="miter"/>
<text x="395.5" y="112.7" font-family='"Liberation Sans", sans-serif' font-size="15" fill="#222" text-anchor="middle" font-weight="normal" font-style="normal" >Chiplet</text>
<text y="130.3" font-family='"Liberation Serif", serif' font-size="15" fill="#222"><tspan x="378.2" font-style="italic">I</tspan><tspan x="383.7" font-style="italic" font-size="12.5" dy="3">cc</tspan><tspan x="395.2" dy="-3">(</tspan><tspan x="400.3" font-style="italic">t</tspan><tspan x="408.2">)</tspan></text>
<text x="424.65" y="164.8" font-family='"Liberation Sans", sans-serif' font-size="15" fill="#2a2a2a" text-anchor="middle" font-weight="normal" font-style="normal" >Chiplet PD</text>
<text x="424.65" y="182.8" font-family='"Liberation Sans", sans-serif' font-size="15" fill="#2a2a2a" text-anchor="middle" font-weight="normal" font-style="normal" >Model</text>
<rect x="542.1" y="82.4" width="134.10000000000002" height="112.19999999999999" fill="#267C92"/>
<rect x="545.4" y="85.7" width="127.50000000000003" height="105.6" fill="#C3E4EE"/>
<rect x="547.0" y="87.30000000000001" width="124.30000000000003" height="102.39999999999999" fill="#D3ECF3"/>
<rect x="548.6" y="88.9" width="121.10000000000002" height="99.19999999999999" fill="#E2F2F7"/>
<rect x="550.2" y="90.5" width="117.90000000000002" height="95.99999999999999" fill="#EFF8FB"/>
<rect x="551.8000000000001" y="92.10000000000001" width="114.70000000000002" height="92.79999999999998" fill="#F8FCFD"/>
<rect x="553.4" y="93.7" width="111.50000000000003" height="89.6" fill="#FFFFFF"/>
<path d="M552,116.5 L532.6,116.5 L532.6,207.6" fill="none" stroke="#111" stroke-width="1.3"/>
<path d="M595.3,149.5 L595.3,88 L567.8,88 L567.8,125" fill="none" stroke="#FF0000" stroke-width="1.3"/>
<path d="M567.8,125 L567.8,149.5" fill="none" stroke="#0000FF" stroke-width="1.3"/>
<line x1="625.7" y1="137.8" x2="625.7" y2="149.5" stroke="#0000FF" stroke-width="3"/>
<line x1="621.7" y1="146.15" x2="629.7" y2="141.15" stroke="#0000FF" stroke-width="1.5"/>
<line x1="652" y1="137.8" x2="652" y2="149.5" stroke="#FF0000" stroke-width="3"/>
<line x1="648" y1="146.15" x2="656" y2="141.15" stroke="#FF0000" stroke-width="1.5"/>
<line x1="578.8" y1="186.9" x2="578.8" y2="207.6" stroke="#0000FF" stroke-width="3"/>
<line x1="574.8" y1="199.75" x2="582.8" y2="194.75" stroke="#0000FF" stroke-width="1.5"/>
<line x1="638.2" y1="186.9" x2="638.2" y2="207.6" stroke="#FF0000" stroke-width="3"/>
<line x1="634.2" y1="199.75" x2="642.2" y2="194.75" stroke="#FF0000" stroke-width="1.5"/>
<rect x="608" y="94.4" width="61.299999999999955" height="43.4" fill="#fff" stroke="#3A3A3A" stroke-width="2"/>
<rect x="549.7" y="150.6" width="119.59999999999991" height="35.6" fill="#fff" stroke="#3A3A3A" stroke-width="2"/>
<path d="M582,99 L582,133 L554.5,116.5 Z" fill="#fff" stroke="#3A3A3A" stroke-width="2.6" stroke-linejoin="miter"/>
<text x="638.65" y="112.7" font-family='"Liberation Sans", sans-serif' font-size="15" fill="#222" text-anchor="middle" font-weight="normal" font-style="normal" >Chiplet</text>
<text y="130.3" font-family='"Liberation Serif", serif' font-size="15" fill="#222"><tspan x="621.4" font-style="italic">I</tspan><tspan x="626.9" font-style="italic" font-size="12.5" dy="3">cc</tspan><tspan x="638.4" dy="-3">(</tspan><tspan x="643.4" font-style="italic">t</tspan><tspan x="651.4">)</tspan></text>
<text x="609.5" y="164.8" font-family='"Liberation Sans", sans-serif' font-size="15" fill="#2a2a2a" text-anchor="middle" font-weight="normal" font-style="normal" >Chiplet PD</text>
<text x="609.5" y="182.8" font-family='"Liberation Sans", sans-serif' font-size="15" fill="#2a2a2a" text-anchor="middle" font-weight="normal" font-style="normal" >Model</text>
<line x1="399.7" y1="238.4" x2="399.7" y2="256.1" stroke="#FF0000" stroke-width="3"/>
<line x1="395.7" y1="249.75" x2="403.7" y2="244.75" stroke="#FF0000" stroke-width="1.5"/>
<line x1="399.7" y1="287.5" x2="399.7" y2="306.2" stroke="#FF0000" stroke-width="3"/>
<line x1="395.7" y1="299.35" x2="403.7" y2="294.35" stroke="#FF0000" stroke-width="1.5"/>
<line x1="517.2" y1="238.4" x2="517.2" y2="256.1" stroke="#0000FF" stroke-width="3"/>
<line x1="513.2" y1="249.75" x2="521.2" y2="244.75" stroke="#0000FF" stroke-width="1.5"/>
<line x1="517.2" y1="287.5" x2="517.2" y2="306.2" stroke="#0000FF" stroke-width="3"/>
<line x1="513.2" y1="299.35" x2="521.2" y2="294.35" stroke="#0000FF" stroke-width="1.5"/>
<line x1="632.6" y1="238.4" x2="632.6" y2="256.1" stroke="#000" stroke-width="3"/>
<line x1="628.6" y1="249.75" x2="636.6" y2="244.75" stroke="#000" stroke-width="1.5"/>
<line x1="632.6" y1="287.5" x2="632.6" y2="306.2" stroke="#000" stroke-width="3"/>
<line x1="628.6" y1="299.35" x2="636.6" y2="294.35" stroke="#000" stroke-width="1.5"/>
<rect x="357.6" y="206.9" width="318.6" height="31.5" fill="#267C92"/>
<rect x="360.90000000000003" y="210.20000000000002" width="312.0" height="24.9" fill="#C3E4EE"/>
<rect x="362.5" y="211.8" width="308.8" height="21.7" fill="#D3ECF3"/>
<rect x="364.1" y="213.4" width="305.6" height="18.5" fill="#E2F2F7"/>
<rect x="365.70000000000005" y="215.0" width="302.40000000000003" height="15.299999999999997" fill="#EFF8FB"/>
<rect x="367.3" y="216.6" width="299.20000000000005" height="12.100000000000001" fill="#F8FCFD"/>
<rect x="368.90000000000003" y="218.20000000000002" width="296.0" height="8.899999999999999" fill="#FFFFFF"/>
<rect x="357.6" y="256.1" width="318.6" height="31.399999999999977" fill="#267C92"/>
<rect x="360.90000000000003" y="259.40000000000003" width="312.0" height="24.799999999999976" fill="#C3E4EE"/>
<rect x="362.5" y="261.0" width="308.8" height="21.599999999999977" fill="#D3ECF3"/>
<rect x="364.1" y="262.6" width="305.6" height="18.399999999999977" fill="#E2F2F7"/>
<rect x="365.70000000000005" y="264.20000000000005" width="302.40000000000003" height="15.199999999999974" fill="#EFF8FB"/>
<rect x="367.3" y="265.8" width="299.20000000000005" height="11.999999999999979" fill="#F8FCFD"/>
<rect x="368.90000000000003" y="267.40000000000003" width="296.0" height="8.799999999999976" fill="#FFFFFF"/>
<rect x="357.6" y="306.2" width="318.6" height="31.900000000000034" fill="#267C92"/>
<rect x="360.90000000000003" y="309.5" width="312.0" height="25.300000000000033" fill="#C3E4EE"/>
<rect x="362.5" y="311.09999999999997" width="308.8" height="22.100000000000033" fill="#D3ECF3"/>
<rect x="364.1" y="312.7" width="305.6" height="18.900000000000034" fill="#E2F2F7"/>
<rect x="365.70000000000005" y="314.3" width="302.40000000000003" height="15.700000000000031" fill="#EFF8FB"/>
<rect x="367.3" y="315.9" width="299.20000000000005" height="12.500000000000036" fill="#F8FCFD"/>
<rect x="368.90000000000003" y="317.5" width="296.0" height="9.300000000000033" fill="#FFFFFF"/>
<text x="411" y="226.9" font-family='"Liberation Sans", sans-serif' font-size="15" fill="#222" text-anchor="start" font-weight="normal" font-style="normal" textLength="209.7" lengthAdjust="spacingAndGlyphs" >Interposer Signal−Power Model</text>
<text x="375" y="276.5" font-family='"Liberation Sans", sans-serif' font-size="15" fill="#222" text-anchor="start" font-weight="normal" font-style="normal" textLength="284" lengthAdjust="spacingAndGlyphs" >Package Signal−Power Model (w/ Decaps)</text>
<text x="374.1" y="326.2" font-family='"Liberation Sans", sans-serif' font-size="15" fill="#222" text-anchor="start" font-weight="normal" font-style="normal" textLength="286.3" lengthAdjust="spacingAndGlyphs" >Board Signal−Power  Model (w/ Decaps &amp; VRM)</text>
<path d="M491.9,342 L540.4,342 L540.4,356.8 L552.6,356.8 L516.5,378.9 L480,356.8 L491.9,356.8 Z" fill="#92CDDC"/>
<rect x="405.3" y="380.6" width="223.5" height="22.8" rx="11.4" fill="#4BACC6"/>
<text x="516.6" y="398.9" font-family='"Liberation Sans", sans-serif' font-size="17.4" fill="#fff" text-anchor="middle" font-weight="normal" font-style="normal" textLength="156" lengthAdjust="spacingAndGlyphs" >SI/PI Co−Simulation</text>
<path d="M418,434.5 L376.6,434.5 L376.6,518.7 L418,518.7" fill="none" stroke="#222" stroke-width="1.6"/>
<path d="M475,434.5 L657,434.5 L657,518.7 L475,518.7" fill="none" stroke="#222" stroke-width="1.6"/>
<path d="M389.8,476.3 L418,476.3 M475,476.3 L511,476.3" fill="none" stroke="#222" stroke-width="1.6"/>
<line x1="501.5" y1="434.5" x2="501.5" y2="518.7" stroke="#222" stroke-width="1.6"/>
<line x1="588.9" y1="434.5" x2="588.9" y2="518.7" stroke="#222" stroke-width="1.6"/>
<line x1="352.5" y1="476.2" x2="363" y2="476.2" stroke="#222" stroke-width="1.6"/>
<path d="M362.7,462.5 L362.7,489.6 L389.8,476.1 Z" fill="#F7F7F7" stroke="#000" stroke-width="2.4" stroke-linejoin="miter"/>
<text x="347.5" y="486.5" font-family='"Liberation Sans", sans-serif' font-size="8.5" fill="#555" text-anchor="start" font-weight="normal" font-style="normal" >In</text>
<text x="389.8" y="486.7" font-family='"Liberation Sans", sans-serif' font-size="9.5" fill="#333" text-anchor="start" font-weight="normal" font-style="normal" textLength="14" lengthAdjust="spacingAndGlyphs" >Out</text>
<rect x="418.5" y="430.7" width="56" height="7.6" fill="#fff" stroke="#111" stroke-width="2"/>
<rect x="418.5" y="472.7" width="56" height="7.6" fill="#fff" stroke="#111" stroke-width="2"/>
<rect x="418.5" y="514.9000000000001" width="56" height="7.6" fill="#fff" stroke="#111" stroke-width="2"/>
<rect x="494" y="450.1" width="16" height="6.8" fill="#F7F7F7"/>
<line x1="493.5" y1="451.2" x2="510.3" y2="451.2" stroke="#222" stroke-width="2"/>
<line x1="493.5" y1="455.8" x2="510.3" y2="455.8" stroke="#222" stroke-width="2"/>
<rect x="494" y="495.1" width="16" height="6.8" fill="#F7F7F7"/>
<line x1="493.5" y1="496.2" x2="510.3" y2="496.2" stroke="#222" stroke-width="2"/>
<line x1="493.5" y1="500.8" x2="510.3" y2="500.8" stroke="#222" stroke-width="2"/>
<circle cx="501.5" cy="434.5" r="2.3" fill="#000"/>
<circle cx="501.5" cy="476.3" r="2.3" fill="#000"/>
<circle cx="501.5" cy="518.7" r="2.3" fill="#000"/>
<circle cx="588.9" cy="434.5" r="2.3" fill="#000"/>
<circle cx="588.9" cy="518.7" r="2.3" fill="#000"/>
<ellipse cx="501" cy="476.5" rx="14.5" ry="35.8" fill="none" stroke="#F07850" stroke-width="1.6" stroke-dasharray="4 3"/>
<path d="M379.4,505 L383.4,505 L383.4,491 L392.8,491 L392.8,505 L402,505 L402,491 L411.5,491 L411.5,505 L420,505 L420,491 L428.9,491 L428.9,505 L432.9,505" fill="none" stroke="#1F3FFF" stroke-width="2.2"/>
<text x="392.4" y="461" font-family='"Liberation Sans", sans-serif' font-size="8.6" fill="#F0643C" text-anchor="middle" font-weight="bold" font-style="normal" textLength="24.2" lengthAdjust="spacingAndGlyphs" >Driver</text>
<text x="392.4" y="472" font-family='"Liberation Sans", sans-serif' font-size="8.6" fill="#F0643C" text-anchor="middle" font-weight="bold" font-style="normal" textLength="15.3" lengthAdjust="spacingAndGlyphs" >(TX)</text>
<text x="446.5" y="459.2" font-family='"Liberation Sans", sans-serif' font-size="8.6" fill="#F0643C" text-anchor="middle" font-weight="bold" font-style="normal" textLength="47.8" lengthAdjust="spacingAndGlyphs" >Signal trace</text>
<text x="446.5" y="469.6" font-family='"Liberation Sans", sans-serif' font-size="8.6" fill="#F0643C" text-anchor="middle" font-weight="bold" font-style="normal" textLength="57" lengthAdjust="spacingAndGlyphs" >(interconnect)</text>
<text x="474.3" y="496.2" font-family='"Liberation Sans", sans-serif' font-size="8.6" fill="#F0643C" text-anchor="middle" font-weight="bold" font-style="normal" textLength="23.1" lengthAdjust="spacingAndGlyphs" >Loads</text>
<text x="474.8" y="506.5" font-family='"Liberation Sans", sans-serif' font-size="8.6" fill="#F0643C" text-anchor="middle" font-weight="bold" font-style="normal" textLength="15.6" lengthAdjust="spacingAndGlyphs" >(RX)</text>
<text x="623.5" y="449.6" font-family='"Liberation Sans", sans-serif' font-size="8.6" fill="#F0643C" text-anchor="middle" font-weight="bold" font-style="normal" textLength="55.4" lengthAdjust="spacingAndGlyphs" >Power supply</text>
<text x="623" y="458.8" font-family='"Liberation Sans", sans-serif' font-size="8.6" fill="#F0643C" text-anchor="middle" font-weight="bold" font-style="normal" textLength="38.1" lengthAdjust="spacingAndGlyphs" >(w/ PDN)</text>
<rect x="511.5" y="454" width="53.7" height="40.7" fill="#fff"/>
<g fill="none" stroke-linecap="butt"><path d="M511.5,459.5 L565.2,459.5" stroke="#FFB070" stroke-width="6"/><path d="M511.5,489.5 L565.2,489.5" stroke="#FF7A30" stroke-width="6"/><path d="M511.5,462 C518,462 521,470 525,474 C529,478 532,487 540,487 C546,487 547,478 550,474 C553,470 556,462 565.2,462" stroke="#FF9040" stroke-width="4"/><path d="M511.5,487 C518,487 521,478 525,474 C529,470 532,462 540,462 C546,462 547,470 550,474 C553,478 556,487 565.2,487" stroke="#FF7020" stroke-width="4"/><path d="M511.5,466 C518,466 521,470 525,474 C529,478 533,490 545,491" stroke="#FFC890" stroke-width="2"/><path d="M530,458 C540,458 545,468 550,474 C554,479 558,488 565.2,489" stroke="#FFC890" stroke-width="2"/></g>
<path d="M525.5,474 C530,464 534,461 538,461 C543,461 546,467 549.5,474" fill="none" stroke="#000" stroke-width="1.3"/>
<line x1="511.5" y1="454.6" x2="565.2" y2="454.6" stroke="#000" stroke-width="1.4"/>
<line x1="511.5" y1="456.2" x2="565.2" y2="456.2" stroke="#22DD22" stroke-width="1.2"/>
<line x1="525" y1="455" x2="525" y2="494" stroke="#22DD22" stroke-width="1"/>
<line x1="549.6" y1="455" x2="549.6" y2="492" stroke="#22DD22" stroke-width="1"/>
<rect x="548" y="491" width="17.2" height="3.7" fill="#000"/>
<line x1="511.5" y1="494" x2="548" y2="494" stroke="#FF40FF" stroke-width="1"/>
<line x1="512.2" y1="464" x2="512.2" y2="485" stroke="#222" stroke-width="1"/>
<line x1="515.5" y1="463" x2="515.5" y2="486" stroke="#000" stroke-width="0.9" stroke-dasharray="1 2.2"/>
<line x1="538.5" y1="463" x2="538.5" y2="486" stroke="#000" stroke-width="0.9" stroke-dasharray="1 2.2"/>
<line x1="562" y1="463" x2="562" y2="486" stroke="#000" stroke-width="0.9" stroke-dasharray="1 2.2"/>
<path d="M477.5,419.5 L528.8,419.5 M483.2,417 L483.2,428.5 M503.8,416 L503.8,428.5 M524.4,416 L524.4,428.5" fill="none" stroke="#C8101A" stroke-width="1.5"/>
<path d="M477.5,414 C479,417 481,419 483.2,419.5 C481,420 479,422 477.5,424 Z" fill="#C8101A"/>
<path d="M493.4,428.3 L493.4,406 L495.0,406 C495.7,413 498.2,418 503.8,419.5 C498.2,421 495.7,424 495.0,428.3 Z" fill="#C8101A"/>
<path d="M514.0,428.3 L514.0,406 L515.5999999999999,406 C516.3,413 518.8,418 524.4,419.5 C518.8,421 516.3,424 515.5999999999999,428.3 Z" fill="#C8101A"/>
<text x="535.4" y="422.8" font-family='"Liberation Serif", serif' font-size="16" fill="#222">Δ<tspan font-style="italic">V</tspan><tspan font-style="italic" font-size="12" dy="3">dd</tspan></text>
<rect x="580.8" y="472.2" width="16.2" height="9" fill="#F7F7F7"/>
<line x1="580.8" y1="472.7" x2="597" y2="472.7" stroke="#222" stroke-width="2"/>
<line x1="580.8" y1="480.5" x2="597" y2="480.5" stroke="#222" stroke-width="2"/>
<rect x="644" y="472" width="25" height="7" fill="#F7F7F7"/>
<line x1="644.3" y1="473.1" x2="668.5" y2="473.1" stroke="#222" stroke-width="1.8"/>
<line x1="649" y1="478.2" x2="665" y2="478.2" stroke="#222" stroke-width="2.6"/>
<rect x="603.5" y="432.9" width="39.5" height="3" fill="#F7F7F7"/>
<path d="M603.5,434.4 Q604.5,428.4 609.5,428.4 Q614.5,428.4 614.5,434.4 Q614.5,428.4 618.8,428.4 Q623.0,428.4 623.0,434.4 Q623.0,428.4 627.3,428.4 Q631.6,428.4 631.6,434.4 Q631.6,428.4 636.8,428.4 Q642.0,428.4 642.0,434.4 L643,434.4" fill="none" stroke="#222" stroke-width="2.2"/>
<ellipse cx="614.5" cy="435.4" rx="1.9" ry="3.2" fill="none" stroke="#222" stroke-width="2"/>
<ellipse cx="623.0" cy="435.4" rx="1.9" ry="3.2" fill="none" stroke="#222" stroke-width="2"/>
<ellipse cx="631.6" cy="435.4" rx="1.9" ry="3.2" fill="none" stroke="#222" stroke-width="2"/>
<rect x="603.5" y="516.7" width="39.5" height="3" fill="#F7F7F7"/>
<path d="M603.5,518.2 Q604.5,512.2 609.5,512.2 Q614.5,512.2 614.5,518.2 Q614.5,512.2 618.8,512.2 Q623.0,512.2 623.0,518.2 Q623.0,512.2 627.3,512.2 Q631.6,512.2 631.6,518.2 Q631.6,512.2 636.8,512.2 Q642.0,512.2 642.0,518.2 L643,518.2" fill="none" stroke="#222" stroke-width="2.2"/>
<ellipse cx="614.5" cy="519.2" rx="1.9" ry="3.2" fill="none" stroke="#222" stroke-width="2"/>
<ellipse cx="623.0" cy="519.2" rx="1.9" ry="3.2" fill="none" stroke="#222" stroke-width="2"/>
<ellipse cx="631.6" cy="519.2" rx="1.9" ry="3.2" fill="none" stroke="#222" stroke-width="2"/>
<rect x="576.2" y="425.8" width="95.8" height="100.4" rx="16" fill="none" stroke="#F07850" stroke-width="1.6" stroke-dasharray="3.5 4"/>
</svg>
</body></html>
